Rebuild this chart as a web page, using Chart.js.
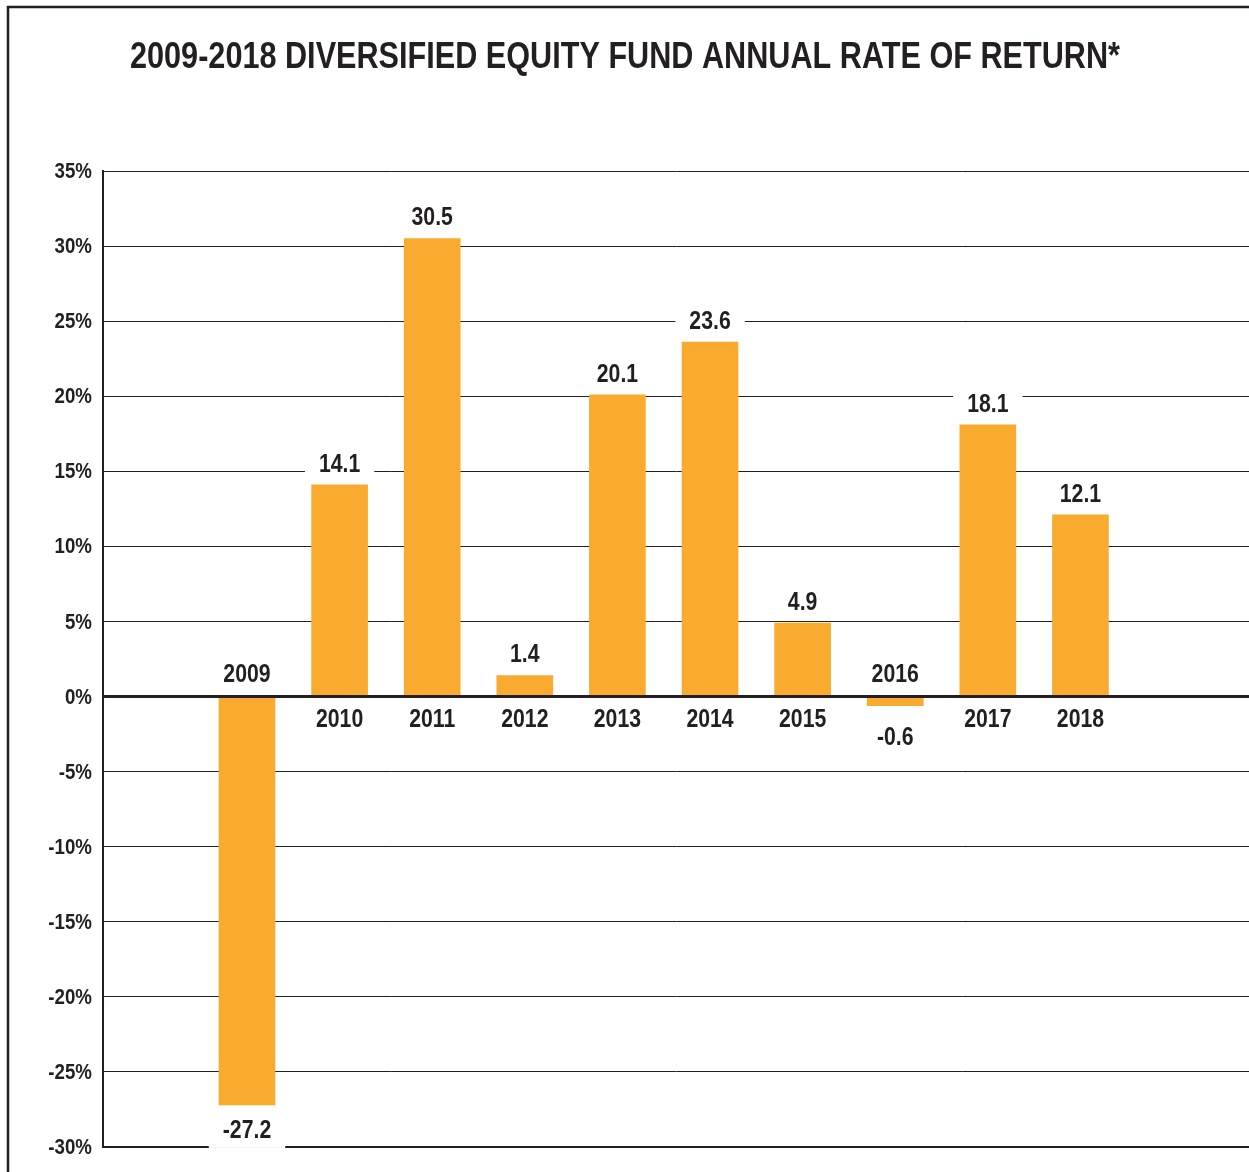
<!DOCTYPE html>
<html>
<head>
<meta charset="utf-8">
<script src="https://cdn.jsdelivr.net/npm/chart.js@4"></script>
<style>
  body { margin: 0; background: #fff; }
  #wrap { width: 1249px; height: 1172px; }
</style>
</head>
<body>
<div id="wrap"><canvas id="chart-area" width="1249" height="1172"></canvas></div>
<script>
const years = ["2009", "2010", "2011", "2012", "2013", "2014", "2015", "2016", "2017", "2018"];
const returns = [-27.2, 14.1, 30.5, 1.4, 20.1, 23.6, 4.9, -0.6, 18.1, 12.1];
const valueLabels = ["-27.2", "14.1", "30.5", "1.4", "20.1", "23.6", "4.9", "-0.6", "18.1", "12.1"];
const titleText = "2009-2018 DIVERSIFIED EQUITY FUND ANNUAL RATE OF RETURN*";

const ink = "#231f20";
const barColor = "#f9ab2f";
const face = "'Liberation Sans', Arial, sans-serif";
const squeeze = 0.85; // condensed look

// draw text squeezed horizontally around (x, y)
function narrowText(ctx, txt, x, y, size, align) {
  ctx.save();
  ctx.font = "bold " + size + "px " + face;
  ctx.textAlign = align;
  ctx.translate(x, y);
  ctx.scale(squeeze, 1);
  ctx.fillText(txt, 0, 0);
  ctx.restore();
}

// frame, title, zero line, tick labels and the labels on the bars
const decorations = {
  id: "decorations",
  beforeDraw(chart) {
    const ctx = chart.ctx;
    ctx.save();
    ctx.fillStyle = "#fff";
    ctx.fillRect(0, 0, chart.width, chart.height);
    ctx.strokeStyle = ink;
    ctx.lineWidth = 2.5;
    ctx.beginPath();
    ctx.moveTo(8, chart.height);
    ctx.lineTo(8, 7);
    ctx.lineTo(chart.width, 7);
    ctx.stroke();

    ctx.fillStyle = ink;
    ctx.font = "bold 36px " + face;
    ctx.textBaseline = "alphabetic";
    ctx.textAlign = "center";
    const w = ctx.measureText(titleText).width;
    ctx.translate(625, 68);
    ctx.scale(990 / w, 1);
    ctx.fillText(titleText, 0, 0);
    ctx.restore();
  },
  afterDatasetsDraw(chart) {
    const ctx = chart.ctx;
    const area = chart.chartArea;
    const yScale = chart.scales.y;
    const y0 = yScale.getPixelForValue(0);
    ctx.save();
    ctx.strokeStyle = ink;
    ctx.lineWidth = 3;
    ctx.beginPath();
    ctx.moveTo(area.left, y0);
    ctx.lineTo(area.right, y0);
    ctx.stroke();

    ctx.fillStyle = ink;
    ctx.textBaseline = "middle";
    yScale.ticks.forEach((t) => {
      narrowText(ctx, t.value + "%", 92, yScale.getPixelForValue(t.value) + 1, 22, "right");
    });

    chart.getDatasetMeta(0).data.forEach((bar, i) => {
      const v = returns[i];
      let yearY, valY;
      if (v >= 0) {
        yearY = bar.base + 23;
        valY = bar.y - 21;
      } else {
        yearY = bar.base - 23;
        valY = Math.max(bar.y + 25, bar.base + 40);
      }
      const txt = valueLabels[i];
      ctx.font = "bold 25px " + face;
      const tw = ctx.measureText(txt).width * squeeze;
      ctx.fillStyle = "#fff";
      ctx.fillRect(bar.x - tw / 2 - 14, valY - 17, tw + 28, 35);
      ctx.fillStyle = ink;
      narrowText(ctx, txt, bar.x, valY + 1, 25, "center");
      narrowText(ctx, years[i], bar.x, yearY + 1, 25, "center");
    });
    ctx.restore();
  }
};

new Chart("chart-area", {
  type: "bar",
  data: {
    datasets: [
      {
        data: years.map((y, i) => ({ x: i, y: returns[i] })),
        backgroundColor: barColor,
        borderWidth: 0,
        barThickness: 56,
      },
    ],
  },
  options: {
    responsive: false,
    animation: false,
    events: [],
    layout: { padding: { top: 171, bottom: 25, left: 0, right: 0 } },
    plugins: {
      legend: { display: false },
      title: { display: false },
      tooltip: { enabled: false },
    },
    scales: {
      x: {
        type: "linear",
        min: -1.555,
        max: 10.82,
        offset: false,
        display: false,
      },
      y: {
        min: -30,
        max: 35,
        afterFit: (scale) => { scale.width = 103; },
        border: { display: true, color: ink, width: 2 },
        grid: {
          color: ink,
          drawTicks: false,
          lineWidth: (c) => (c.tick && c.tick.value === -30 ? 2 : 1),
        },
        ticks: {
          stepSize: 5,
          display: false,
        },
      },
    },
  },
  plugins: [decorations],
});
</script>
</body>
</html>
